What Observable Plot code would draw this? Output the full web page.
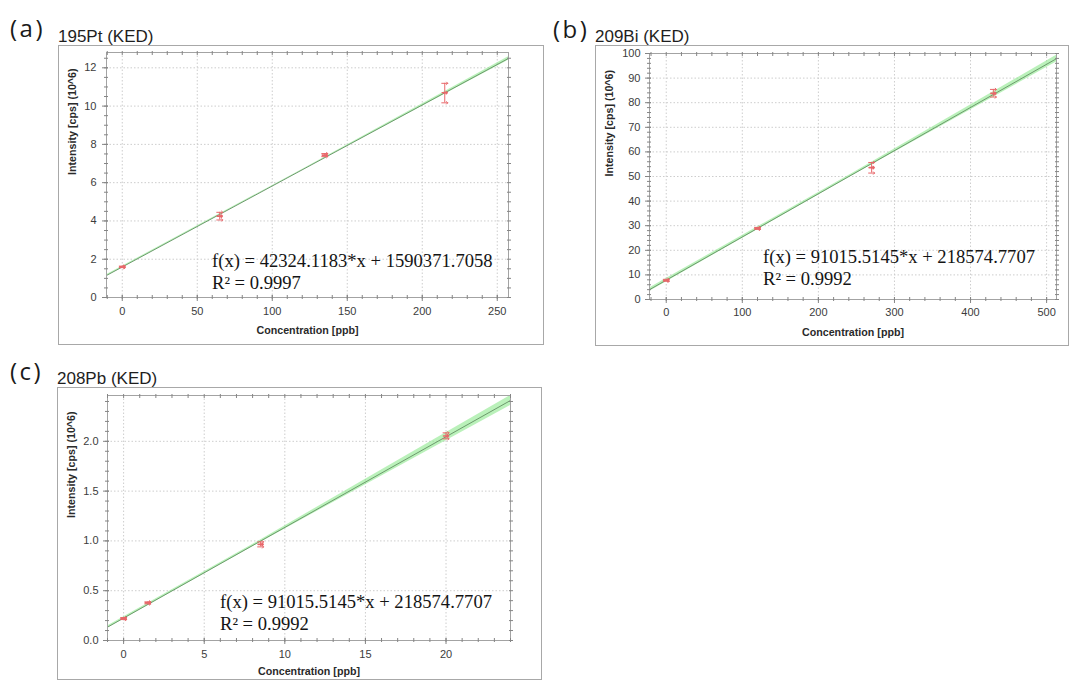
<!DOCTYPE html>
<html><head><meta charset="utf-8">
<script src="https://cdn.jsdelivr.net/npm/d3@7"></script>
<script src="https://cdn.jsdelivr.net/npm/@observablehq/plot@0.6"></script>
<style>
html,body{margin:0;padding:0;background:#fff;}
#root{position:relative;width:1070px;height:682px;overflow:hidden;}
.frame{position:absolute;border:1px solid #a8a8a8;box-sizing:border-box;pointer-events:none;z-index:3;}
.chart{position:absolute;z-index:1;}
#overlay{position:absolute;left:0;top:0;pointer-events:none;z-index:4;}
</style></head><body><div id="root"></div>
<script>
// ---------- Panel (a) 195Pt ----------
const concA = [0, 65, 135, 215];
const intA = [1.6, 4.25, 7.44, 10.7];
const intLoA = [1.56, 4.05, 7.36, 10.17];
const intHiA = [1.64, 4.45, 7.52, 11.19];
const fitXA = [-10.5, 257.5];
const fitYA = [1.15, 12.49];
const bandXA = [-10.5, 120, 257.5];
const bandLoA = [1.11, 6.65, 12.40];
const bandHiA = [1.19, 6.69, 12.58];
const xTicksA = [0, 50, 100, 150, 200, 250];
const yTicksA = [0, 2, 4, 6, 8, 10, 12];

// ---------- Panel (b) 209Bi ----------
const concB = [0, 120, 270, 430];
const intB = [7.8, 28.9, 53.6, 83.8];
const intLoB = [7.4, 28.5, 51.4, 82.3];
const intHiB = [8.2, 29.3, 55.7, 85.4];
const fitXB = [-22, 513];
const fitYB = [4.0, 97.9];
const bandXB = [-22, 245, 513];
const bandLoB = [3.3, 50.4, 96.5];
const bandHiB = [4.7, 51.3, 99.3];
const xTicksB = [0, 100, 200, 300, 400, 500];
const yTicksB = [0, 10, 20, 30, 40, 50, 60, 70, 80, 90, 100];

// ---------- Panel (c) 208Pb ----------
const concC = [0, 1.5, 8.5, 20];
const intC = [0.22, 0.378, 0.965, 2.054];
const intLoC = [0.21, 0.368, 0.94, 2.025];
const intHiC = [0.23, 0.388, 0.99, 2.085];
const fitXC = [-1, 24];
const fitYC = [0.134, 2.41];
const bandXC = [-1, 8, 24];
const bandLoC = [0.123, 0.942, 2.36];
const bandHiC = [0.145, 0.964, 2.46];
const xTicksC = [0, 5, 10, 15, 20];
const yTicksC = [0, 0.5, 1.0, 1.5, 2.0];

// ---------- Texts ----------
const panelLetters = ["(a)", "(b)", "(c)"];
const panelTitles = ["195Pt (KED)", "209Bi (KED)", "208Pb (KED)"];
const xAxisLabel = "Concentration [ppb]";
const yAxisLabel = "Intensity [cps] (10^6)";
const equations = [
  "f(x) = 42324.1183*x + 1590371.7058",
  "f(x) = 91015.5145*x + 218574.7707",
  "f(x) = 91015.5145*x + 218574.7707"
];
const r2Texts = ["R\u00B2 = 0.9997", "R\u00B2 = 0.9992", "R\u00B2 = 0.9992"];

const RED = "#e8676a";
const TICK = "#858585";

function makePanel(p) {
  const pts = p.xs.map((x, i) => ({x, y: p.ys[i], lo: p.los[i], hi: p.his[i]}));
  const band = p.bandX.map((x, i) => ({x, lo: p.bandLo[i], hi: p.bandHi[i]}));
  const fit = p.fitX.map((x, i) => ({x, y: p.fitY[i]}));
  const chart = Plot.plot({
    width: p.w, height: p.h,
    marginLeft: p.ml, marginRight: p.mr, marginTop: p.mt, marginBottom: p.mb,
    style: {fontFamily: "Liberation Sans, Arial, sans-serif", fontSize: "11px", color: "#3a3a3a", background: "transparent", overflow: "visible"},
    x: {domain: p.xDomain, label: null},
    y: {domain: p.yDomain, label: null},
    marks: [
      Plot.gridX(p.xTicks, {stroke: "#cdcdcd", strokeOpacity: 1, strokeDasharray: "1.5,2"}),
      Plot.gridY(p.yTicks, {stroke: "#cdcdcd", strokeOpacity: 1, strokeDasharray: "1.5,2"}),
      Plot.areaY(band, {x: "x", y1: "lo", y2: "hi", fill: "#8ce88c", fillOpacity: 0.6}),
      Plot.line(fit, {x: "x", y: "y", stroke: "#6c9a6c", strokeWidth: 1}),
      Plot.ruleX(pts, {x: "x", y1: "lo", y2: "hi", stroke: RED, strokeWidth: 1}),
      Plot.vector(pts, {x: "x", y: "lo", length: 6, rotate: 90, anchor: "middle", stroke: RED, strokeWidth: 1}),
      Plot.vector(pts, {x: "x", y: "hi", length: 6, rotate: 90, anchor: "middle", stroke: RED, strokeWidth: 1}),
      Plot.vector(pts, {x: "x", y: "y", length: 5, rotate: 90, anchor: "middle", stroke: RED, strokeWidth: 1.6}),
      Plot.frame({stroke: "#a3a3a3"}),
      // minor & major ticks on four sides
      Plot.axisX(p.xMinor, {anchor: "bottom", tickSize: 4, dy: -2, fill: "none", stroke: TICK, label: null}),
      Plot.axisX(p.xTicks, {anchor: "bottom", tickSize: 6, dy: -2, fill: "none", stroke: TICK, label: null}),
      Plot.axisX(p.xMinor, {anchor: "top", tickSize: 4, dy: 2, fill: "none", stroke: TICK, label: null}),
      Plot.axisY(p.yMinor, {anchor: "left", tickSize: 4, dx: 2, fill: "none", stroke: TICK, label: null}),
      Plot.axisY(p.yTicks, {anchor: "left", tickSize: 6, dx: 2, fill: "none", stroke: TICK, label: null}),
      Plot.axisY(p.yMinor, {anchor: "right", tickSize: 4, dx: -2, fill: "none", stroke: TICK, label: null}),
      // tick labels
      Plot.axisX(p.xTicks, {anchor: "bottom", tickSize: 0, tickPadding: p.padX, stroke: "none", fill: "#3c3c3c", label: null}),
      Plot.axisY(p.yTicks, {anchor: "left", tickSize: 0, tickPadding: p.padY, stroke: "none", fill: "#3c3c3c", label: null, tickFormat: p.yFormat}),
      // axis titles
      Plot.text([xAxisLabel], {frameAnchor: "bottom", dy: p.xLabDy, lineAnchor: "bottom", text: d => d, fontWeight: "bold", fontSize: 10.7, fill: "#2a2a2a"}),
      Plot.text([yAxisLabel], {frameAnchor: "left", dx: -p.yLabDx, rotate: -90, text: d => d, fontWeight: "bold", fontSize: 10.7, fill: "#2a2a2a"})
    ]
  });
  chart.classList.add("chart");
  chart.style.left = p.left + "px";
  chart.style.top = p.top + "px";
  const root = document.getElementById("root");
  root.appendChild(chart);
  const fr = document.createElement("div");
  fr.className = "frame";
  Object.assign(fr.style, {left: p.left + "px", top: p.top + "px", width: p.w + "px", height: p.h + "px"});
  root.appendChild(fr);
}

makePanel({
  xs: concA, ys: intA, los: intLoA, his: intHiA,
  fitX: fitXA, fitY: fitYA, bandX: bandXA, bandLo: bandLoA, bandHi: bandHiA,
  xTicks: xTicksA, yTicks: yTicksA,
  xMinor: d3.range(-10, 258, 10), yMinor: d3.range(0, 12.8, 0.5),
  xDomain: [-10.5, 257.5], yDomain: [0, 12.8],
  left: 58, top: 45, w: 486, h: 300, ml: 48, mr: 36, mt: 7, mb: 48,
  padX: 10, padY: 10, xLabDy: 36, yLabDx: 34, yFormat: d => String(d)
});
makePanel({
  xs: concB, ys: intB, los: intLoB, his: intHiB,
  fitX: fitXB, fitY: fitYB, bandX: bandXB, bandLo: bandLoB, bandHi: bandHiB,
  xTicks: xTicksB, yTicks: yTicksB,
  xMinor: d3.range(-20, 514, 20), yMinor: d3.range(0, 100.1, 2),
  xDomain: [-22, 513], yDomain: [0, 100],
  left: 595, top: 45, w: 474, h: 301, ml: 54, mr: 13, mt: 8, mb: 47,
  padX: 9, padY: 9, xLabDy: 36, yLabDx: 40, yFormat: d => String(d)
});
makePanel({
  xs: concC, ys: intC, los: intLoC, his: intHiC,
  fitX: fitXC, fitY: fitYC, bandX: bandXC, bandLo: bandLoC, bandHi: bandHiC,
  xTicks: xTicksC, yTicks: yTicksC,
  xMinor: d3.range(-1, 24.01, 1), yMinor: d3.range(0, 2.46, 0.1),
  xDomain: [-1, 24], yDomain: [0, 2.46],
  left: 57, top: 387, w: 485, h: 293, ml: 50, mr: 32, mt: 8, mb: 40,
  padX: 10, padY: 9, xLabDy: 34, yLabDx: 36, yFormat: d => d.toFixed(1)
});

// ---------- overlay texts ----------
const ov = d3.select("#root").append("svg").attr("id", "overlay").attr("width", 1070).attr("height", 682);
const letterPos = [[10, 37], [553, 38], [10, 380]];
const titlePos = [[58, 42], [595, 42], [57, 384]];
const eqPos = [[212, 266.7, 289.3], [763, 263, 285], [220, 608, 630]];
panelLetters.forEach((t, i) => {
  ov.append("text").attr("x", letterPos[i][0]).attr("y", letterPos[i][1]).text(t)
    .attr("font-family", "Open Sans, DejaVu Sans, sans-serif").attr("font-size", 24).attr("letter-spacing", 2.5).attr("fill", "#1a1a1a");
  ov.append("text").attr("x", titlePos[i][0]).attr("y", titlePos[i][1]).text(panelTitles[i])
    .attr("font-family", "Liberation Sans, Arial, sans-serif").attr("font-size", 17).attr("fill", "#1e1e1e");
  ov.append("text").attr("x", eqPos[i][0]).attr("y", eqPos[i][1]).text(equations[i])
    .attr("font-family", "Liberation Serif, Times New Roman, serif").attr("font-size", 18.6).attr("fill", "#141414");
  ov.append("text").attr("x", eqPos[i][0]).attr("y", eqPos[i][2]).text(r2Texts[i])
    .attr("font-family", "Liberation Serif, Times New Roman, serif").attr("font-size", 18.6).attr("fill", "#141414");
});
</script></body></html>
